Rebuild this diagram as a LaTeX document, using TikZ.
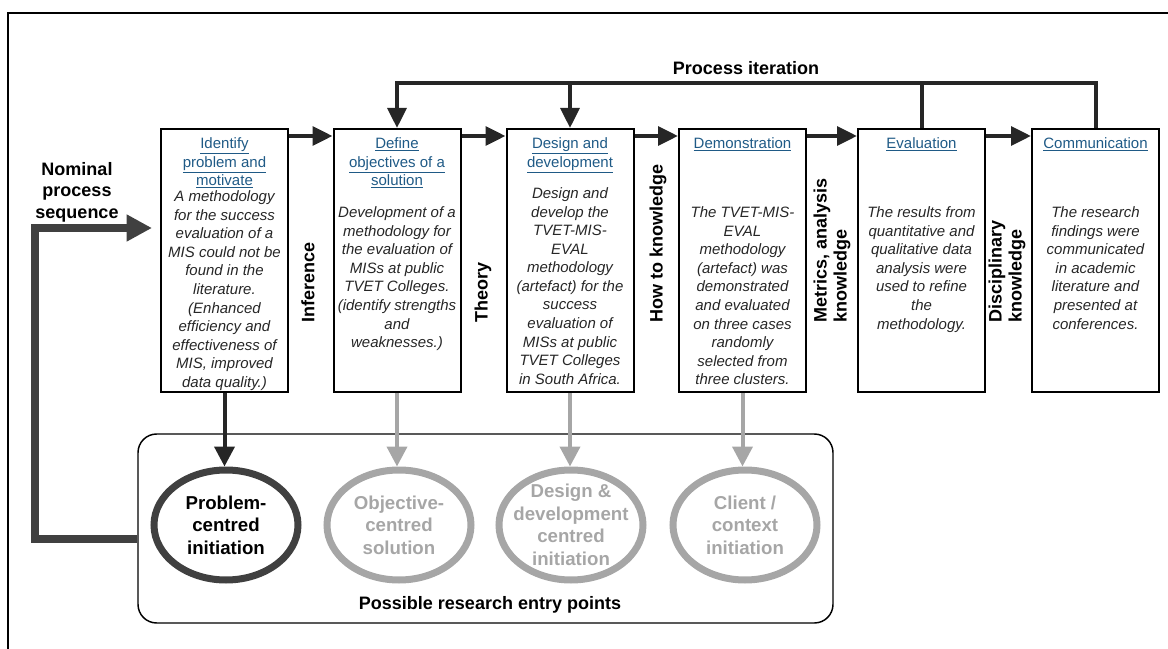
\documentclass[tikz,border=0pt]{standalone}
\usepackage{fontspec}
\setmainfont{Liberation Sans}
\usepackage{tikz}
\usetikzlibrary{arrows.meta}
\usetikzlibrary{positioning}
\usetikzlibrary{shapes.geometric}
\definecolor{dsrBlue}{HTML}{1F5A86}
\definecolor{dsrDark}{HTML}{404040}
\definecolor{dsrGrey}{HTML}{A6A6A6}
\definecolor{dsrBlack}{HTML}{262626}

\begin{document}
\begin{tikzpicture}[x=0.75pt,y=-0.75pt,
  stepbox/.style={draw,line width=1.5pt,minimum width=95.25pt,minimum height=197.25pt,inner sep=0pt},
  steptitle/.style={anchor=north,inner sep=0pt,align=center,text=dsrBlue,font=\fontsize{11.25}{13.9}\selectfont},
  steptext/.style={anchor=north,inner sep=0pt,align=center,text=dsrBlack,font=\fontsize{11.25}{13.9}\selectfont\itshape},
  steplabel/.style={rotate=90,anchor=west,inner sep=0pt,align=left,font=\fontsize{13.5}{15}\selectfont\bfseries},
  biglabel/.style={inner sep=0pt,align=center,font=\fontsize{13.5}{16.1}\selectfont\bfseries},
  flow/.style={line width=3pt,draw=dsrBlack,-{Triangle[length=15pt,width=14pt]}},
  flowline/.style={line width=3pt,draw=dsrBlack},
  entrybox/.style={draw,line width=1.1pt,rounded corners=14pt,minimum width=521.25pt,minimum height=141.75pt},
  entryflow/.style={line width=3pt,draw=dsrGrey,-{Triangle[length=15pt,width=15pt]}},
  entryring/.style={ellipse,draw=dsrGrey,line width=5.25pt,minimum width=108pt,minimum height=82.5pt,inner sep=0pt},
  entrytext/.style={inner sep=0pt,align=center,text=dsrGrey,font=\fontsize{14}{16.9}\selectfont\bfseries},
  nomflow/.style={line width=6pt,draw=dsrDark,-{Triangle[length=19pt,width=19pt]}}]
  \useasboundingbox (0,0) rectangle (1168,649);

  % frame
  \draw[line width=1.1pt] (8,649) -- (8,13) -- (1168,13);

  %% process steps
  % boxes
  \node[stepbox] (idf) at (224.5,260.5) {};
  \node[stepbox] (obj) at (397,260.5) {};
  \node[stepbox] (dev) at (570,260.5) {};
  \node[stepbox] (demo) at (742.5,260.5) {};
  \node[stepbox] (eval) at (921.5,260.5) {};
  \node[stepbox] (comm) at (1095.5,260.5) {};

  % titles
  \node[steptitle,below=7pt of idf.north] (idfhead) {\underline{Identify}\\\underline{problem and}\\\underline{motivate}};
  \node[steptitle,below=7pt of obj.north] (objhead) {\underline{Define}\\\underline{objectives of a}\\\underline{solution}};
  \node[steptitle,below=7pt of dev.north] (devhead) {\underline{Design and}\\\underline{development}};
  \node[steptitle,below=7pt of demo.north] (demohead) {\underline{Demonstration}};
  \node[steptitle,below=7pt of eval.north] (evalhead) {\underline{Evaluation}};
  \node[steptitle,below=7pt of comm.north] (commhead) {\underline{Communication}};

  % texts
  \node[steptext,below=47pt of idf.north] (idftext) {A methodology\\for the success\\evaluation of a\\MIS could not be\\found in the\\literature.\\(Enhanced\\efficiency and\\effectiveness of\\MIS, improved\\data quality.)};
  \node[steptext,below=59pt of obj.north] (objtext) {Development of a\\methodology for\\the evaluation of\\MISs at public\\TVET Colleges.\\(identify strengths\\and\\weaknesses.)};
  \node[steptext,below=44.7pt of dev.north] (devtext) {Design and\\develop the\\TVET-MIS-\\EVAL\\methodology\\(artefact) for the\\success\\evaluation of\\MISs at public\\TVET Colleges\\in South Africa.};
  \node[steptext,below=59pt of demo.north] (demotext) {The TVET-MIS-\\EVAL\\methodology\\(artefact) was\\demonstrated\\and evaluated\\on three cases\\randomly\\selected from\\three clusters.};
  \node[steptext,below=59pt of eval.north] (evaltext) {The results from\\quantitative and\\qualitative data\\analysis were\\used to refine\\the\\methodology.};
  \node[steptext,below=59pt of comm.north] (commtext) {The research\\findings were\\communicated\\in academic\\literature and\\presented at\\conferences.};

  % knowledge between the steps
  \node[steplabel] (infer) at (308,323) {Inference};
  \node[steplabel] (theory) at (483,323) {Theory};
  \node[steplabel] (howto) at (658,323) {How to knowledge};
  \node[steplabel] (metric) at (832,323) {Metrics, analysis\\knowledge};
  \node[steplabel] (discip) at (1007,323) {Disciplinary\\knowledge};

  % sequence
  \draw[flow] ([yshift=-6pt]idf.north east) -- ([yshift=-6pt]obj.north west);
  \draw[flow] ([yshift=-6pt]obj.north east) -- ([yshift=-6pt]dev.north west);
  \draw[flow] ([yshift=-6pt]dev.north east) -- ([yshift=-6pt]demo.north west);
  \draw[flow] ([yshift=-6pt]demo.north east) -- ([yshift=-6pt]eval.north west);
  \draw[flow] ([yshift=-6pt]eval.north east) -- ([yshift=-6pt]comm.north west);

  % iteration
  \coordinate (iter) at (746,83);
  \node[biglabel] (iterlbl) at (746,68) {Process iteration};
  \draw[flow] (comm.north) |- (iter) -| (obj.north);
  \draw[flow] (iter -| dev.north) -- (dev.north);
  \draw[flowline] (eval.north) -- (iter -| eval.north);

  %% entry points
  \node[entrybox] (entry) at (485.5,528.5) {};
  \node[biglabel] (entrylbl) at (490,605) {Possible research entry points};

  \node[entryring,draw=dsrDark] (prob) at (226,525) {};
  \node[entryring] (objc) at (399,525) {};
  \node[entryring] (devc) at (571,525) {};
  \node[entryring] (clnt) at (745,525) {};

  \node[entrytext,text=black] (probtxt) at (prob) {Problem-\\centred\\initiation};
  \node[entrytext] (objctxt) at (objc) {Objective-\\centred\\solution};
  \node[entrytext] (devctxt) at (devc) {Design \&\\development\\centred\\initiation};
  \node[entrytext] (clnttxt) at (clnt) {Client /\\context\\initiation};

  \draw[entryflow,draw=dsrBlack] (idf.south) -- (idf.south |- prob.north);
  \draw[entryflow] (obj.south) -- (obj.south |- objc.north);
  \draw[entryflow] (dev.south) -- (dev.south |- devc.north);
  \draw[entryflow] (demo.south) -- (demo.south |- clnt.north);

  % nominal sequence
  \node[biglabel] (nomlbl) at (77,192) {Nominal\\process\\sequence};
  \coordinate (nomturn) at (35,228);
  \draw[nomflow,shorten >=6pt] (entry.west |- 0,539) -| (nomturn) -- (nomturn -| idf.west);
\end{tikzpicture}
\end{document}
